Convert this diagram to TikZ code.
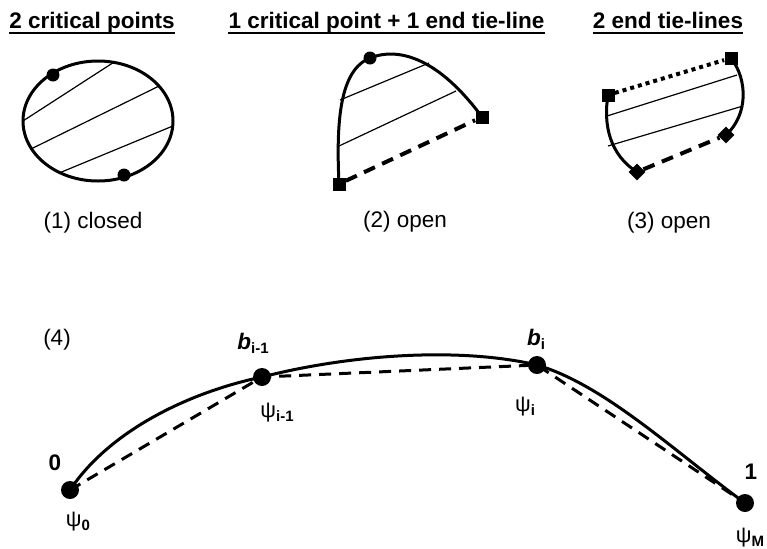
\documentclass[tikz,border=0pt]{standalone}
\usepackage{fontspec}
\setmainfont{Liberation Sans}
\usetikzlibrary{calc}
\begin{document}
\begin{tikzpicture}[x=0.5pt,y=-0.5pt,
  lab/.style={font=\fontsize{11.25}{13.5}\selectfont, inner sep=0pt},
  blab/.style={font=\fontsize{11.25}{13.5}\selectfont\bfseries, inner sep=0pt},
  psilab/.style={font=\fontsize{11}{13}\selectfont, inner sep=0pt},
  head/.style={font=\fontsize{11.25}{13.5}\selectfont\bfseries, inner sep=0pt, anchor=base},
  uline/.style={line width=1pt},
  curveline/.style={line width=1.5pt},
  tie/.style={line width=0.6pt},
  sdot/.style={circle, fill=black, inner sep=0pt, minimum size=6.5pt},
  bdot/.style={circle, fill=black, inner sep=0pt, minimum size=9pt},
  sq/.style={rectangle, fill=black, inner sep=0pt, minimum size=6.5pt},
  dia/.style={rectangle, fill=black, inner sep=0pt, minimum size=6pt, rotate=45},
  dashA/.style={line width=2pt, dash pattern=on 6pt off 4pt},
  dotA/.style={line width=2pt, dash pattern=on 2pt off 2pt},
  dashB/.style={line width=1.5pt, dash pattern=on 6pt off 4pt},
]
\useasboundingbox (0,0) rectangle (767,548);

% headings
\node[head] (h1) at (92,28.3) {2 critical points};
\node[head] (h2) at (386.5,28.3) {1 critical point + 1 end tie-line};
\node[head] (h3) at (668,28.3) {2 end tie-lines};
\foreach \h in {h1,h2,h3}
  \draw[uline] ([yshift=-2.2pt]\h.base west) -- ([yshift=-2.2pt]\h.base east);

% (1) closed
\draw[curveline] (98,121) ellipse [x radius=75, y radius=60];
\begin{scope}
  \clip (98,121) ellipse [x radius=75, y radius=60];
  \draw[tie] (9.6,129.6) -- (124.4,55.4);
  \draw[tie] (11.4,158.6) -- (176.6,77.4);
  \draw[tie] (43.2,179.6) -- (188.8,119.4);
\end{scope}
\node[sdot] (c1) at (53,75) {};
\node[sdot] (c2) at (124,175) {};
\node[lab] (l1) at (93,223) {(1) closed};

% (2) open
\node[sq] (s2a) at (339,184) {};
\node[sq] (s2b) at (482,117) {};
\node[sdot] (s2c) at (370,58) {};
\draw[curveline] (s2a.center) .. controls (336,120) and (340,70) .. (s2c.center)
  .. controls (400,46) and (440,60) .. (s2b.center);
\draw[dashA] (s2a) -- (s2b);
\draw[tie] (340,100) -- (429,63);
\draw[tie] (339,146) -- (456,91);
\node[lab] (l2) at (405,222) {(2) open};

% (3) open
\node[sq] (s3a) at (608,95) {};
\node[sq] (s3b) at (731,58) {};
\node[dia] (s3c) at (637,172) {};
\node[dia] (s3d) at (726,135) {};
\draw[curveline] (s3b.center) .. controls (748,80) and (748,115) .. (s3d.center);
\draw[curveline] (s3a.center) .. controls (603,125) and (610,155) .. (s3c.center);
\draw[dotA] (s3a) -- (s3b);
\draw[dashA] (s3c) -- (s3d);
\draw[tie] (607,116) -- (737,75);
\draw[tie] (608,146) -- (743,106);
\node[lab] (l3) at (669,223) {(3) open};

% (4)
\node[lab] (l4) at (57,340) {(4)};
\node[bdot] (p0) at (70,490) {};
\node[bdot] (pa) at (262,377) {};
\node[bdot] (pb) at (537,365) {};
\node[bdot] (p1) at (745,503) {};
\draw[curveline] (p0.center) .. controls (110,430) and (190,392) .. (pa.center)
  .. controls (352,354) and (460,347) .. (pb.center)
  .. controls (605,385) and (675,452) .. (p1.center);
\draw[dashB] (p0.center) -- (pa.center) -- (pb.center) -- (p1.center);

\node[blab] (t0) at (55,463) {0};
\node[blab] (t1) at (751,472) {1};
\node[lab] (tb1) at (253,343) {\textbf{\textit{b}}\raisebox{-2pt}{\fontsize{7.5}{8}\selectfont\bfseries i-1}};
\node[lab] (tb2) at (536,339) {\textbf{\textit{b}}\raisebox{-2pt}{\fontsize{7.5}{8}\selectfont\bfseries i}};
\node[psilab] (q0) at (78,522) {ψ\raisebox{-2pt}{\fontsize{7.5}{8}\selectfont\bfseries 0}};
\node[psilab] (qa) at (277,413) {ψ\raisebox{-2pt}{\fontsize{7.5}{8}\selectfont\bfseries i-1}};
\node[psilab] (qb) at (525,407) {ψ\raisebox{-2pt}{\fontsize{7.5}{8}\selectfont\bfseries i}};
\node[psilab] (qm) at (750,538) {ψ\raisebox{-2pt}{\fontsize{7.5}{8}\selectfont\bfseries M}};
\end{tikzpicture}
\end{document}
